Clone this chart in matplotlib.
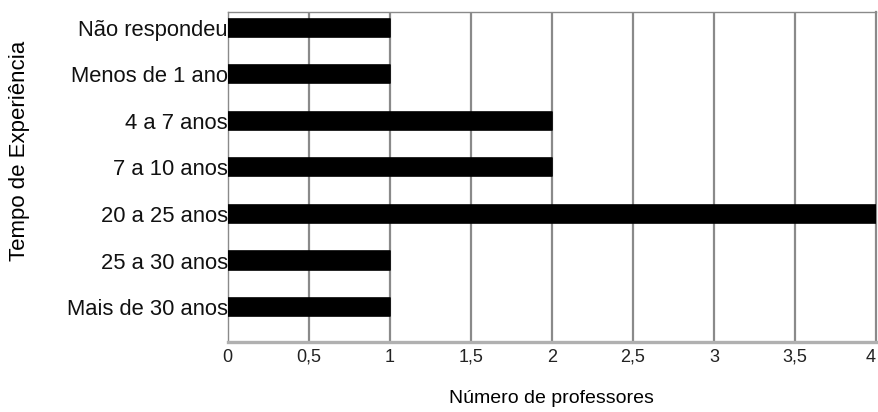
import numpy as np
import matplotlib
matplotlib.use('Agg')
import matplotlib.pyplot as plt

# ---------------------------------------------------------------------------
# Data (bottom to top)
# ---------------------------------------------------------------------------
categorias = ['Mais de 30 anos', '25 a 30 anos', '20 a 25 anos',
              '7 a 10 anos', '4 a 7 anos', 'Menos de 1 ano', 'Não respondeu']
professores = [1, 1, 4, 2, 2, 1, 1]
x_ticks = [0, 0.5, 1, 1.5, 2, 2.5, 3, 3.5, 4]
x_tick_labels = ['0', '0,5', '1', '1,5', '2', '2,5', '3', '3,5', '4']

plt.rcParams['font.family'] = ['Liberation Sans', 'DejaVu Sans']

fig = plt.figure(figsize=(8.79, 4.12), dpi=100)
ax = fig.add_axes([0.259, 0.170, 0.7375, 0.801])

grid_c = '#8a8a8a'
for xv in x_ticks[1:-1]:
    ax.axvline(xv, color=grid_c, linewidth=1.6, zorder=1)

y = np.arange(len(categorias))
ax.barh(y, professores, height=0.39, color='black', edgecolor='black',
        linewidth=1.2, joinstyle='round', zorder=3)

ax.set_xlim(0, 4)
ax.set_ylim(-0.75, len(categorias) - 1 + 0.34)
ax.set_xticks(x_ticks)
ax.set_xticklabels(x_tick_labels, fontsize=13, color='#222222')
ax.set_yticks(y)
ax.set_yticklabels(categorias, fontsize=15.8, color='#111111')
ax.tick_params(axis='both', length=0)
ax.tick_params(axis='x', pad=5)
ax.tick_params(axis='y', pad=0)
ax.get_xticklabels()[-1].set_horizontalalignment('right')

for side in ['top', 'left', 'right']:
    ax.spines[side].set_color(grid_c)
    ax.spines[side].set_linewidth(1.0)
ax.spines['right'].set_linewidth(1.6)
ax.spines['bottom'].set_color('#b0b0b0')
ax.spines['bottom'].set_linewidth(2.4)

ax.set_xlabel('Número de professores', fontsize=14, labelpad=17)
fig.text(20 / 879, 1 - 151 / 412, 'Tempo de Experiência', fontsize=16,
         rotation=90, ha='center', va='center')

plt.savefig('out.png', dpi=100)
plt.close()
